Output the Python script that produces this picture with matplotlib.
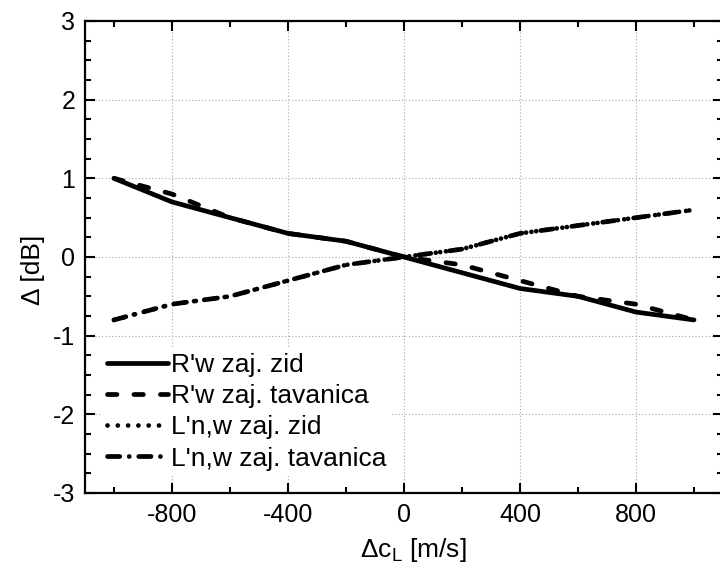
import matplotlib
matplotlib.use("Agg")
import matplotlib.pyplot as plt
from matplotlib.ticker import MultipleLocator

plt.rcParams['font.family'] = ['Liberation Sans', 'DejaVu Sans']
plt.rcParams['mathtext.fontset'] = 'custom'
plt.rcParams['mathtext.rm'] = 'Liberation Sans'
plt.rcParams['mathtext.it'] = 'Liberation Sans'
plt.rcParams['axes.unicode_minus'] = False

# promjena brzine longitudinalnog vala [m/s]
dc = [-1000, -800, -600, -400, -200, 0, 200, 400, 600, 800, 1000]

# promjena indeksa [dB]
rw_zid = [1.0, 0.7, 0.5, 0.3, 0.2, 0.0, -0.2, -0.4, -0.5, -0.7, -0.8]
rw_tavanica = [1.0, 0.8, 0.5, 0.3, 0.2, 0.0, -0.1, -0.3, -0.5, -0.6, -0.8]
lnw_zid = [-0.8, -0.6, -0.5, -0.3, -0.1, 0.0, 0.1, 0.3, 0.4, 0.5, 0.6]
lnw_tavanica = [-0.8, -0.6, -0.5, -0.3, -0.1, 0.0, 0.1, 0.3, 0.4, 0.5, 0.6]

labels = ["R'w zaj. zid", "R'w zaj. tavanica", "L'n,w zaj. zid", "L'n,w zaj. tavanica"]

fig = plt.figure(figsize=(7.2, 5.73), dpi=100)
ax = fig.add_axes([85 / 720, 80 / 573, 638 / 720, 472 / 573])

lw = 3.4
ax.plot(dc, rw_zid, color='black', lw=lw, solid_capstyle='round', label=labels[0])
ax.plot(dc, rw_tavanica, color='black', lw=lw, dashes=(2.0, 3.6),
        dash_capstyle='round', label=labels[1])
ax.plot(dc, lnw_zid, color='black', lw=lw, dashes=(0.01, 2.17),
        dash_capstyle='round', label=labels[2])
ax.plot(dc, lnw_tavanica, color='black', lw=lw, dashes=(2.6, 2.0, 0.01, 2.0),
        dash_capstyle='round', label=labels[3])

ax.set_xlim(-1100, 1100)
ax.set_ylim(-3, 3)
ax.xaxis.set_major_locator(MultipleLocator(400))
ax.xaxis.set_minor_locator(MultipleLocator(200))
ax.yaxis.set_major_locator(MultipleLocator(1))
ax.yaxis.set_minor_locator(MultipleLocator(0.25))

ax.grid(True, which='major', color='#a8a8a8', linestyle=(0, (1, 2)), lw=0.8)
ax.set_axisbelow(True)

ax.tick_params(which='both', direction='in', top=True, right=True,
               labelsize=18, width=1.5)
ax.tick_params(which='major', length=7.5, pad=7)
ax.tick_params(which='minor', length=4.5)
for s in ax.spines.values():
    s.set_linewidth(1.6)

ax.set_xlabel('Δc$_{\\mathregular{L}}$ [m/s]', fontsize=19)
ax.set_ylabel('Δ [dB]', fontsize=19)
ax.xaxis.set_label_coords(0.514, -0.092)
ax.yaxis.set_label_coords(-0.062, 0.472)

leg = ax.legend(loc='lower left', fontsize=19, frameon=True, facecolor='white',
                edgecolor='none', framealpha=1, fancybox=False,
                handlelength=2.3, handletextpad=0.1, labelspacing=0.27,
                borderpad=0.2, borderaxespad=0.65)

fig.savefig('out.png', dpi=100)
